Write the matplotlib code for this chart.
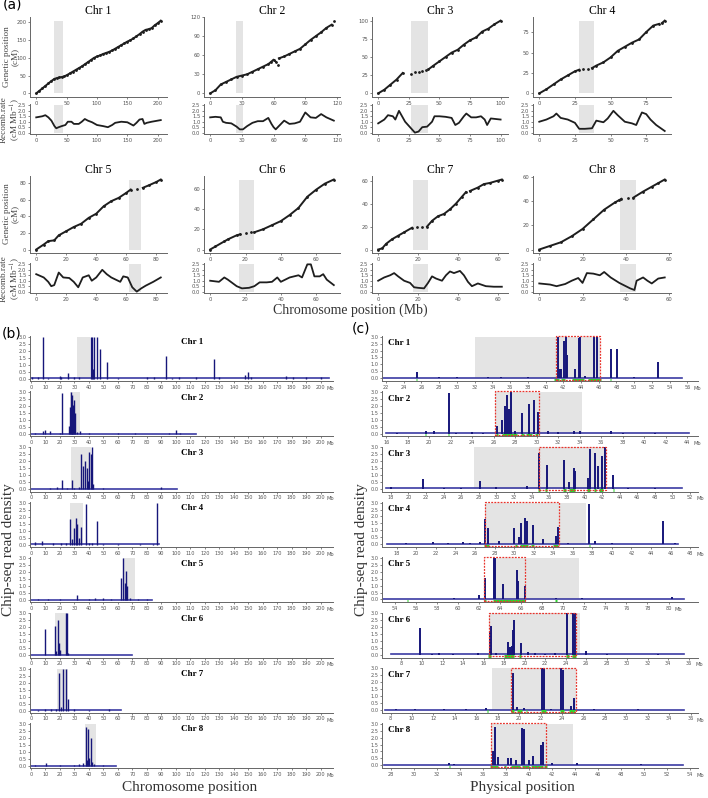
import numpy as np
import matplotlib.pyplot as plt
from matplotlib.patches import Rectangle

plt.rcParams['font.family'] = 'DejaVu Sans'
plt.rcParams['mathtext.fontset'] = 'stix'
SERIF = ['Liberation Serif', 'DejaVu Serif']
nan = np.nan

chroms = ['Chr 1', 'Chr 2', 'Chr 3', 'Chr 4', 'Chr 5', 'Chr 6', 'Chr 7', 'Chr 8']

# ---------------- (a) genetic map and recombination rate ----------------
a_len = [205, 117, 101, 88, 83, 70, 62, 58]
a_gray = [(30, 44), (24.5, 31.5), (27, 41), (28, 38.5), (62, 70), (16.5, 25), (17.5, 25), (37.5, 44.5)]
a_ticks = [[0, 50, 100, 150, 200], [0, 30, 60, 90, 120], [0, 25, 50, 75, 100], [0, 25, 50, 75],
           [0, 20, 40, 60, 80], [0, 20, 40, 60], [0, 20, 40, 60], [0, 20, 40, 60]]

gen_mb = [
    [0, 5, 10, 15, 20, 25, 30, 34, 38, 42, 46, 50, 55, 60, 65, 70, 75, 80, 85, 90, 95, 100, 105, 110,
     115, 120, 125, 130, 135, 140, 145, 150, 155, 160, 165, 170, 175, 180, 185, 190, 195, 200, 205],
    [0, 5, 10, 15, 20, 25, 30, 35, 40, 45, 50, 55, 58, 60, 62, nan, 64, nan, 65, 70, 75, 80, 85, 90, 95,
     100, 105, 110, 115, nan, 117],
    [0, 5, 10, 15, 20, nan, 27, nan, 30, nan, 33, nan, 36, nan, 39, nan, 41, 45, 50, 55, 60, 65, 70, 75,
     80, 85, 90, 95, 100],
    [0, 5, 10, 15, 20, 25, 28, nan, 31, nan, 34, nan, 37, 40, 45, 50, 55, 60, 65, 70, 75, 80, 84, nan,
     86, 88],
    [0, 5, 8, 12, 15, 20, 25, 30, 35, 40, 45, 50, 55, 60, 63, nan, 67, nan, 71, 75, 80, 83],
    [0, 3, 8, 10, 15, 17, nan, 20, nan, 23, nan, 25, 30, 35, 40, 45, 50, 55, 60, 65, 70],
    [0, 2, 4, 7, 10, 13, 17, nan, 19.5, nan, 22, nan, 24.5, 27, 30, 33, 36, 39, 42, 44, nan, 46, 50,
     53, 56, 60, 62],
    [0, 5, 10, 15, 20, 25, 30, 35, 37, 38, nan, 41, nan, 43.5, 48, 52, 55, 58],
]
gen_cm = [
    [0, 7, 14, 21, 28, 35, 41, 43, 45, 46, 48, 51, 56, 61, 66, 71, 76, 82, 88, 94, 100, 104, 107, 111,
     114, 117, 121, 126, 131, 136, 141, 146, 150, 155, 161, 167, 174, 179, 181, 184, 192, 198, 205],
    [0, 5, 14, 18, 22, 26, 28, 30, 34, 38, 42, 46, 50, 53, 50, nan, 45, nan, 55, 58, 62, 66, 70, 77,
     84, 90, 96, 103, 108, nan, 114],
    [0, 5, 12, 19, 28, nan, 27, nan, 29, nan, 30, nan, 31, nan, 32, nan, 33, 38, 44, 50, 56, 60, 67,
     73, 77, 85, 89, 95, 100],
    [0, 5, 11, 17, 22, 27, 29, nan, 29.5, nan, 29.5, nan, 31, 34, 38, 44, 52, 57, 62, 66, 75, 83, 85,
     nan, 86, 89],
    [0, 6, 10, 11, 17, 22, 27, 31, 38, 43, 52, 58, 62, 68, 72, nan, 73, nan, 74, 77, 81, 84],
    [0, 3, 8, 10, 14, 15, nan, 16, nan, 17, nan, 17, 20, 24, 28, 34, 41, 52, 59, 65, 69],
    [0, 1, 5, 9, 12, 15, 19, nan, 20, nan, 19.5, nan, 20, 25, 29, 31, 35, 40, 46, 50, nan, 51, 54, 57,
     58, 60, 61],
    [0, 3, 6, 11, 17, 25, 33, 39, 41, 42, nan, 42.5, nan, 43, 48, 52, 55, 58],
]

rec_mb = [
    [0, 10, 15, 20, 25, 30, 33, 37, 42, 48, 52, 58, 62, 70, 75, 80, 85, 92, 100, 110, 118, 125, 130,
     140, 150, 160, 165, 170, 175, 178, 182, 190, 205],
    [0, 5, 10, 12, 15, 20, 25, 28, 31, 35, 40, 45, 50, 55, 58, 60, 62, 65, 70, 75, 80, 85, 90, 95, 100,
     105, 110, 117],
    [0, 5, 8, 12, 14, 17, 19, 22, 26, 30, 33, 36, 40, 44, 46, 50, 55, 60, 63, 66, 70, 72, 76, 80, 84,
     87, 89, 92, 100],
    [0, 5, 10, 12, 15, 20, 25, 28, 32, 37, 40, 45, 48, 52, 55, 60, 65, 68, 70, 72, 75, 78, 82, 88],
    [0, 5, 8, 10, 12, 15, 18, 22, 25, 28, 31, 35, 37, 40, 44, 47, 50, 53, 56, 58, 61, 64, 67, 70, 73,
     78, 83],
    [0, 5, 8, 10, 15, 18, 22, 25, 28, 32, 35, 38, 40, 45, 50, 52, 55, 57, 59, 62, 64, 66, 70],
    [0, 3, 6, 8, 10, 13, 16, 18, 20, 23, 25, 27, 29, 32, 34, 36, 38, 41, 43, 45, 47, 50, 54, 58, 62],
    [0, 5, 8, 12, 15, 18, 20, 22, 25, 28, 30, 33, 37, 40, 42, 44, 45, 48, 50, 52, 55, 58],
]
rec_rate = [
    [1.4, 1.5, 1.6, 1.4, 1.1, 0.6, 0.4, 0.5, 0.6, 0.7, 1.0, 1.0, 0.8, 0.8, 1.0, 1.25, 1.1, 0.95, 0.7,
     0.6, 0.5, 0.7, 0.9, 1.0, 0.95, 0.65, 0.9, 1.2, 1.25, 0.8, 0.9, 1.0, 1.15],
    [1.4, 1.45, 1.4, 1.0, 0.9, 0.85, 0.55, 0.3, 0.3, 0.6, 0.9, 1.05, 1.05, 1.35, 0.8, 0.5, 0.3, 0.6,
     1.1, 0.8, 0.85, 1.0, 1.85, 1.4, 1.35, 1.7, 1.4, 1.1],
    [0.85, 1.2, 1.6, 1.5, 1.2, 2.0, 1.6, 1.0, 0.5, 0.0, 0.1, 0.5, 0.55, 1.0, 1.5, 1.5, 1.45, 1.35, 0.7,
     0.9, 1.5, 1.75, 1.4, 1.4, 1.5, 1.2, 0.7, 1.3, 1.2],
    [1.0, 1.2, 1.5, 1.75, 1.35, 1.2, 0.9, 0.35, 0.35, 0.4, 1.1, 0.95, 1.3, 2.0, 1.6, 1.0, 0.85, 0.7,
     1.3, 1.85, 1.7, 1.2, 0.7, 0.15],
    [1.6, 1.3, 0.9, 0.5, 0.6, 1.75, 1.3, 1.25, 0.9, 0.4, 1.3, 1.5, 1.0, 1.3, 2.0, 1.6, 1.3, 1.1, 0.9,
     1.4, 1.3, 0.4, 0.0, 0.3, 0.55, 0.9, 1.3],
    [1.0, 0.9, 1.3, 1.1, 0.5, 0.3, 0.35, 0.5, 0.85, 0.85, 0.9, 1.3, 0.9, 1.3, 1.5, 1.3, 2.5, 2.5, 1.4,
     1.4, 1.6, 1.1, 0.6],
    [1.0, 1.3, 1.5, 1.7, 1.4, 1.0, 0.8, 0.4, 0.35, 0.3, 0.8, 1.4, 1.2, 1.0, 1.5, 1.85, 1.7, 1.9, 1.5,
     0.9, 0.5, 0.75, 0.5, 0.45, 0.45],
    [0.75, 0.65, 0.5, 0.7, 1.0, 1.25, 0.8, 1.7, 1.65, 1.5, 1.8, 1.3, 0.8, 0.5, 0.3, 0.15, 1.0, 1.3,
     1.0, 0.75, 1.2, 1.3],
]
rec_ticks = [0.0, 0.5, 1.0, 1.5, 2.0, 2.5]

# ---------------- (b) ChIP-seq density, whole chromosomes ----------------
b_len = [206, 114, 100.5, 88.5, 83.7, 69.4, 61.8, 58.4]
b_gray = [(32, 41), (27, 34), (27.6, 41.1), (27, 36), (63.2, 71.7), (16.5, 24.6), (18.2, 25.7), (37.2, 44.8)]
b_pos = [
    [1, 5, 8, 12, 20, 21, 25.3, 30, 33, 41.1, 41.8, 42.5, 43.7, 45.3, 47.6, 52.6, 60, 80, 85, 92.9, 97,
     102, 114, 126.4, 130, 147.6, 150, 152, 176, 181, 190, 200],
    [3, 8, 10, 13, 20, 21.6, 26.2, 27.0, 27.4, 28.0, 28.6, 29.2, 29.7, 30.3, 32, 34, 40, 60, 72, 95, 100, 103],
    [8, 13, 18, 21.6, 25, 28, 30, 33, 34.5, 35.6, 37.5, 38.9, 39.5, 40.2, 41.1, 42, 42.8, 50, 62, 70, 90],
    [2.8, 7.8, 15, 21, 24, 26.9, 28.5, 29.9, 31, 32, 33, 34.5, 37.7, 40, 42, 45.3, 50, 60, 75, 84, 86.7],
    [5, 12, 20, 31.5, 40, 44, 50, 55, 62.3, 63.7, 64.8, 65.5, 66.4, 68, 74, 80],
    [9.9, 12, 16.6, 17.5, 18.9, 19.3, 20, 23.9, 24.6, 25.5, 30, 45, 60],
    [5, 10, 14, 17, 19.5, 20.5, 22.3, 24.1, 25.3, 30, 40, 54],
    [3, 10.1, 20, 30, 33, 36, 37.9, 38.8, 39.5, 40.2, 41.1, 42, 43.5, 50],
]
b_h = [
    [0.1, 0.12, 3.0, 0.08, 0.22, 0.15, 0.45, 0.1, 0.15, 3.0, 3.0, 0.7, 3.0, 3.0, 2.1, 1.2, 0.06, 0.1,
     0.1, 1.6, 0.08, 0.12, 0.1, 1.4, 0.1, 0.25, 0.5, 0.1, 0.2, 0.12, 0.1, 0.1],
    [0.05, 0.2, 0.3, 0.2, 0.1, 2.9, 0.6, 1.9, 3.0, 2.8, 1.2, 2.1, 2.4, 1.5, 0.15, 0.2, 0.08, 0.05, 0.06,
     0.1, 0.3, 0.12],
    [0.05, 0.1, 0.15, 0.7, 0.08, 0.65, 0.1, 0.15, 2.55, 1.7, 2.05, 1.5, 0.6, 2.7, 2.55, 3.0, 0.4, 0.08,
     0.06, 0.05, 0.2],
    [0.2, 0.3, 0.1, 0.15, 0.15, 1.8, 0.4, 1.2, 1.9, 1.5, 0.5, 1.25, 2.9, 0.15, 0.12, 1.7, 0.08, 0.05,
     0.06, 0.08, 3.0],
    [0.05, 0.08, 0.06, 0.35, 0.1, 0.12, 0.15, 0.1, 1.6, 3.0, 1.2, 2.1, 1.0, 0.15, 0.1, 0.08],
    [1.9, 0.05, 2.1, 0.3, 2.5, 0.9, 0.4, 3.0, 3.0, 0.2, 0.06, 0.05, 0.05],
    [0.05, 0.1, 0.1, 0.15, 2.7, 0.25, 3.0, 3.0, 0.8, 0.12, 0.08, 0.1],
    [0.05, 0.2, 0.05, 0.08, 0.12, 0.2, 2.8, 0.4, 2.6, 0.6, 2.0, 0.3, 0.15, 0.1],
]
b_xticks = list(range(0, 201, 10))
chip_yticks = [0.0, 0.5, 1.0, 1.5, 2.0, 2.5, 3.0]

# ---------------- (c) ChIP-seq density, zoomed regions ----------------
c_xlim = [(21.55, 57.2), (15.6, 45.0), (17.0, 52.9), (16.5, 48.8), (52.8, 82.8), (6.1, 36.9), (7.2, 36.7), (27.2, 54.7)]
c_tick_range = [(22, 56), (16, 44), (18, 52), (18, 48), (54, 80), (8, 36), (8, 36), (28, 54)]
c_span = [(21.7, 55.4), (16, 44.2), (17.5, 51.1), (17, 46.8), (52.9, 81.5), (7, 35.5), (7.5, 35.4), (27.4, 53.4)]
c_gray = [(32, 46.2), (26.1, 34.2), (27.5, 42.4), (27, 37.35), (63.3, 71.5), (16.5, 25.4), (17.5, 25.3), (36.7, 43.8)]
c_box = [(41.2, 46.2), (26.1, 30.2), (34.8, 42.4), (27, 34.55), (62.5, 66.4), (16.5, 25.0), (19.2, 25.3), (36.7, 41.5)]
c_pos = [
    [23, 25.5, 28, 30, 33.5, 35, 38, 41.4, 41.6, 41.8, 42.1, 42.3, 42.4, 43.3, 43.8, 43.9, 44.5, 45.5,
     45.8, 47.4, 48.1, 50, 52.7, 54],
    [17, 19.7, 20.4, 21.8, 22.5, 24, 25, 26.3, 26.8, 27.0, 27.2, 27.4, 27.6, 28.0, 28.6, 29.3, 29.7,
     30.1, 31, 32, 33.5, 34, 36.9, 38, 41],
    [18, 21.7, 24, 26, 28.1, 30, 33.5, 34.8, 35.7, 37.7, 38.3, 38.8, 38.9, 40.4, 40.6, 41.2, 41.5, 42.0,
     42.3, 43.3, 45, 48],
    [19, 21.7, 23.2, 24.8, 25.5, 26.5, 27.0, 27.3, 28.5, 30.0, 30.5, 30.7, 31.1, 31.3, 31.9, 33.0, 34.3,
     34.45, 35.5, 37.7, 38.3, 40, 45.2, 46.5],
    [56, 59.6, 62.0, 62.6, 63.4, 63.5, 64.3, 65.6, 65.7, 66.4, 68, 69.3, 71.8, 75, 80.3],
    [9.8, 11, 11.7, 13, 15.5, 16.6, 16.7, 17.2, 18.4, 18.6, 18.8, 18.9, 19.0, 19.6, 20.3, 21, 22, 23,
     24.1, 24.7, 24.9, 26.0, 28, 33],
    [8.5, 10.3, 13, 15, 16.9, 19.4, 19.8, 20.5, 22.1, 22.3, 23.0, 23.9, 24.1, 24.8, 25.1, 27, 31.1],
    [29, 31, 33.0, 33.5, 35.5, 36.9, 37.0, 37.3, 38.2, 38.4, 38.9, 39.4, 39.6, 40.0, 40.3, 41.0, 41.2,
     42.0, 44.2, 46, 49.7, 52.3],
]
c_h = [
    [0.05, 0.45, 0.08, 0.1, 0.1, 0.12, 0.06, 3.0, 0.7, 0.7, 2.7, 3.0, 1.7, 0.7, 2.9, 3.0, 0.15, 3.0, 3.0,
     2.1, 2.1, 0.06, 1.2, 0.05],
    [0.05, 0.15, 0.15, 2.9, 0.05, 0.08, 0.06, 0.55, 1.0, 2.0, 2.8, 1.8, 3.0, 0.2, 1.5, 2.1, 2.4, 1.55,
     0.15, 0.1, 0.2, 0.15, 0.2, 0.05, 0.05],
    [0.15, 0.7, 0.05, 0.08, 0.6, 0.1, 0.2, 2.6, 1.7, 2.1, 0.5, 1.5, 1.3, 0.75, 2.9, 2.6, 1.65, 2.35, 3.0,
     1.0, 0.05, 0.05],
    [0.05, 0.15, 0.1, 0.12, 0.1, 0.12, 1.8, 1.2, 0.2, 1.2, 0.5, 1.55, 1.9, 1.7, 1.35, 0.4, 0.6, 1.25,
     0.1, 2.9, 0.2, 0.08, 1.7, 0.05],
    [0.05, 0.1, 0.35, 1.55, 3.0, 3.0, 1.15, 2.1, 1.3, 1.0, 0.05, 0.12, 0.08, 0.05, 0.15],
    [1.9, 0.05, 0.1, 0.05, 0.15, 1.7, 2.1, 0.15, 0.9, 0.55, 0.6, 1.8, 2.5, 0.85, 0.2, 0.1, 0.08, 0.1,
     3.0, 3.0, 3.0, 0.3, 0.05, 0.05],
    [0.05, 0.05, 0.05, 0.06, 0.15, 2.7, 0.2, 0.15, 3.0, 3.0, 0.1, 3.0, 2.9, 0.3, 0.85, 0.05, 0.1],
    [0.05, 0.05, 0.15, 0.1, 0.05, 1.0, 2.8, 0.6, 0.5, 0.5, 0.35, 2.7, 2.6, 0.4, 0.65, 1.5, 1.65, 0.2,
     0.15, 0.05, 0.08, 0.05],
]
# green annotation marks under the baseline (start, end)
c_green = [
    [(41.0, 41.5), (41.8, 42.2), (43.0, 44.3), (44.8, 46.3), (47.3, 47.4), (25.4, 25.5)],
    [(26.2, 26.4), (26.8, 28.2), (28.5, 28.8), (29.0, 29.6), (29.8, 30.1), (21.7, 21.8), (19.6, 19.7)],
    [(34.7, 34.9), (35.5, 35.8), (37.6, 37.9), (38.2, 38.9), (40.3, 40.6), (41.1, 41.3), (41.6, 42.1), (43.2, 43.4)],
    [(26.9, 27.4), (30.1, 30.3), (30.6, 31.4), (31.7, 32.0), (34.0, 34.5), (37.7, 37.8)],
    [(62.5, 62.7), (63.3, 66.4), (69.2, 69.4), (55.2, 55.3)],
    [(16.4, 16.7), (18.0, 19.0), (19.5, 19.6), (24.0, 24.3), (24.6, 25.0)],
    [(19.2, 19.5), (19.8, 20.3), (20.6, 20.7), (22.0, 22.5), (23.8, 24.2), (24.7, 25.2), (17.0, 17.1)],
    [(36.6, 37.3), (37.8, 38.0), (38.4, 39.2), (39.4, 40.0), (40.2, 41.2), (41.3, 41.6), (33.0, 33.1)],
]

GRAY = '#e4e4e4'
NAVY = '#16167a'
BASE = '#3b3ba3'
TICK = '#555555'

W, H = 708, 798
fig = plt.figure(figsize=(W / 100, H / 100), dpi=100)


def add_ax(x0, y0, x1, y1):
    # pixel box (top-left origin) -> figure axes
    return fig.add_axes([x0 / W, 1 - y1 / H, (x1 - x0) / W, (y1 - y0) / H])


def style(ax, fs=3.8):
    ax.set_facecolor('none')
    for s in ('top', 'right'):
        ax.spines[s].set_visible(False)
    for s in ('left', 'bottom'):
        ax.spines[s].set_color('#666666')
        ax.spines[s].set_linewidth(0.7)
    ax.tick_params(length=1.6, width=0.5, color=TICK, labelsize=fs, labelcolor=TICK, pad=1)


# ---- panel (a) ----
cols = [(30, 167), (204, 340), (372, 508), (533, 671)]
rows = [((17, 97), (104, 134)), ((176, 253), (263, 293))]

for i in range(8):
    x0, x1 = cols[i % 4]
    (g0, g1), (r0, r1) = rows[i // 4]
    axg = add_ax(x0, g0, x1, g1)
    axr = add_ax(x0, r0, x1, r1)
    L = a_len[i]
    ymax = np.nanmax(gen_cm[i])
    gs, ge = a_gray[i]
    for ax, top in ((axg, ymax), (axr, 2.5)):
        ax.add_patch(Rectangle((gs, 0), ge - gs, top, facecolor=GRAY, lw=0, zorder=0))
        ax.set_xlim(-0.05 * L, 1.05 * L)
        ax.set_xticks(a_ticks[i])
        style(ax)
    axg.plot(gen_mb[i], gen_cm[i], color='#1e1e1e', lw=1.4, marker='o', ms=1.0)
    axg.set_ylim(-0.05 * ymax, 1.05 * ymax)
    axg.set_yticks(a_ticks[i])
    axr.plot(rec_mb[i], rec_rate[i], color='#1e1e1e', lw=1.3)
    axr.set_ylim(-0.125, 2.625)
    axr.set_yticks(rec_ticks)
    axr.set_yticklabels(['%.1f' % t for t in rec_ticks])
    axg.set_title(chroms[i], family=SERIF, fontsize=8.5, pad=1)

for yc_g, yc_r in ((57, 120), (214, 279)):
    fig.text(11 / W, 1 - yc_g / H, 'Genetic position\n(cM)', family=SERIF, fontsize=6.6, color='#444444',
             rotation=90, ha='center', va='center', linespacing=1.05)
    fig.text(11 / W, 1 - yc_r / H, 'Recomb.rate\n(cM Mb$^{-1}$)', family=SERIF, fontsize=6.6, color='#444444',
             rotation=90, ha='center', va='center', linespacing=1.05)

fig.text(350 / W, 1 - 310 / H, 'Chromosome position (Mb)', family=SERIF, fontsize=10,
         color='#333333', ha='center', va='center')

# ---- panels (b) and (c) ----
step = 55.3
for i in range(8):
    top = 336 + step * i
    # (b)
    ax = add_ax(30, top, 333, top + 45)
    style(ax, fs=3.6)
    ax.set_xlim(-0.7, 208.5)
    ax.set_ylim(-0.15, 3.05)
    gs, ge = b_gray[i]
    ax.add_patch(Rectangle((gs, 0), ge - gs, 3.0, facecolor=GRAY, lw=0, zorder=0))
    ax.plot([0, b_len[i]], [0.03, 0.03], color=BASE, lw=1.2, zorder=2)
    ax.vlines(b_pos[i], 0, b_h[i], color=NAVY, lw=1.0, zorder=3)
    ax.set_xticks(b_xticks)
    ax.set_yticks(chip_yticks)
    ax.set_yticklabels(['%.1f' % t for t in chip_yticks])
    ax.annotate('Mb', xy=(b_xticks[-1], 0), xycoords=('data', 'axes fraction'), xytext=(4.5, -5.2),
                textcoords='offset points', fontsize=3.6, color=TICK, ha='left', va='center')
    ax.text(0.535, 0.86, chroms[i], transform=ax.transAxes, family=SERIF, fontsize=6.5,
            weight='bold', ha='center', va='center')

    # (c)
    ax = add_ax(382, top, 698, top + 45)
    style(ax, fs=3.6)
    ax.set_xlim(*c_xlim[i])
    ax.set_ylim(-0.2, 3.05)
    gs, ge = c_gray[i]
    ax.add_patch(Rectangle((gs, 0), ge - gs, 3.0, facecolor=GRAY, lw=0, zorder=0))
    bs, be = c_box[i]
    ax.add_patch(Rectangle((bs, -0.12), be - bs, 3.17, fill=False, edgecolor='#e8342c', lw=0.9,
                           ls=(0, (1.5, 1)), zorder=4, clip_on=False))
    ax.plot(c_span[i], [0.03, 0.03], color=BASE, lw=1.2, zorder=2)
    ax.vlines(c_pos[i], 0, c_h[i], color=NAVY, lw=1.4, zorder=3)
    gx0 = [g[0] for g in c_green[i]]
    gx1 = [g[1] for g in c_green[i]]
    ax.hlines([-0.1] * len(gx0), gx0, gx1, color='#2fd42f', lw=2.2, zorder=3)
    t0, t1 = c_tick_range[i]
    cticks = list(range(t0, t1 + 1, 2))
    ax.set_xticks(cticks)
    ax.set_yticks(chip_yticks)
    ax.set_yticklabels(['%.1f' % t for t in chip_yticks])
    ax.annotate('Mb', xy=(cticks[-1], 0), xycoords=('data', 'axes fraction'), xytext=(4.5, -5.2),
                textcoords='offset points', fontsize=3.6, color=TICK, ha='left', va='center')
    ax.text(0.02, 0.84, chroms[i], transform=ax.transAxes, family=SERIF, fontsize=6.5,
            weight='bold', ha='left', va='center')

for xc in (9, 362):
    fig.text(xc / W, 1 - 550 / H, 'Chip-seq read density', family=SERIF, fontsize=11,
             color='#333333', rotation=90, ha='center', va='center')
fig.text(190 / W, 1 - 788 / H, 'Chromosome position', family=SERIF, fontsize=11,
         color='#333333', ha='center', va='center')
fig.text(522 / W, 1 - 788 / H, 'Physical position', family=SERIF, fontsize=11,
         color='#333333', ha='center', va='center')

for lab, x, y in (('(a)', 3, 4), ('(b)', 2, 333), ('(c)', 352, 329)):
    fig.text(x / W, 1 - y / H, lab, fontsize=10, ha='left', va='center')

fig.savefig('out.png', dpi=100)
